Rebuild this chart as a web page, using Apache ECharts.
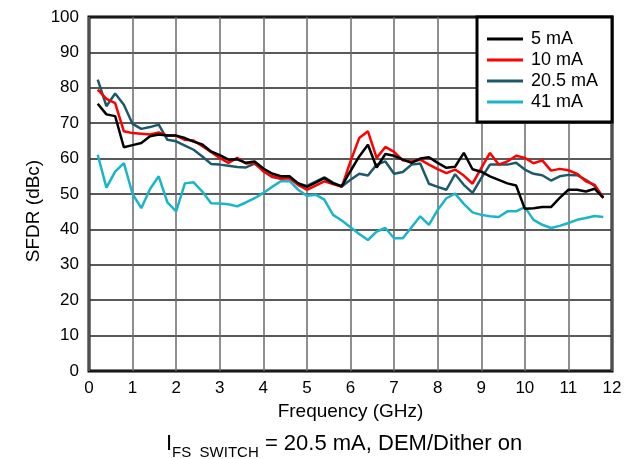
<!DOCTYPE html>
<html>
<head>
<meta charset="utf-8">
<script src="https://cdn.jsdelivr.net/npm/echarts@6/dist/echarts.min.js"></script>
<style>
	html, body { margin: 0; padding: 0; background: #fff; }
	#chart { width: 641px; height: 459px; }
</style>
</head>
<body>
<div id="chart"></div>
<script>
	// frequency points (GHz)
	var freq = [0.2, 0.4, 0.6, 0.8, 1.0, 1.2, 1.4, 1.6, 1.8, 2.0, 2.2, 2.4, 2.6, 2.8, 3.0, 3.2, 3.4, 3.6, 3.8, 4.0,
		4.2, 4.4, 4.6, 4.8, 5.0, 5.2, 5.4, 5.6, 5.8, 6.0, 6.2, 6.4, 6.6, 6.8, 7.0, 7.2, 7.4, 7.6, 7.8, 8.0,
		8.2, 8.4, 8.6, 8.8, 9.0, 9.2, 9.4, 9.6, 9.8, 10.0, 10.2, 10.4, 10.6, 10.8, 11.0, 11.2, 11.4, 11.6, 11.8];

	// SFDR (dBc) per full-scale current
	var sfdr5 = [75.5, 72.5, 72, 63.2, 63.8, 64.4, 66.3, 66.8, 66.5, 66.5, 65.8, 64.8, 64, 62, 61, 59.7, 59.8, 58.8, 59.2, 57.2,
		55.8, 55, 55, 53, 52, 53.2, 54.5, 53, 52.2, 56.5, 60.6, 63.9, 57.5, 61.3, 60.8, 59.7, 58.8, 60, 60.4, 58.8,
		57.4, 57.7, 61.6, 57, 56.3, 55, 54, 53, 52.4, 45.8, 46, 46.3, 46.3, 48.9, 51.2, 51.2, 50.7, 51.5, 48.9];
	var sfdr10 = [79.5, 76.9, 75.7, 67.7, 67.2, 67, 66.8, 67.4, 66.5, 66.5, 65.3, 65.1, 63.5, 61.9, 60.2, 58.8, 60.2, 58.6, 58.8, 56.4,
		55, 54.3, 54.5, 52.5, 51.2, 52.4, 53.6, 52.8, 52, 59.2, 65.8, 67.7, 60.2, 63.3, 61.9, 59.5, 59.2, 59.7, 58.3, 57,
		55.9, 56.9, 55.2, 52.9, 57.3, 61.6, 58.3, 59.2, 60.8, 60.2, 58.7, 59.5, 56.6, 57.1, 56.7, 55.7, 53.6, 52.6, 48.9];
	var sfdr20 = [82.3, 74.8, 78.4, 75.2, 69.8, 68.4, 68.9, 69.6, 65.3, 64.9, 63.7, 62.5, 60.6, 58.5, 58.3, 58, 57.6, 57.5, 58.6, 56.6,
		54.8, 54.4, 54.5, 53, 52.3, 53.5, 54.7, 53.2, 52.1, 54, 55.7, 55.2, 58.3, 59.2, 55.7, 56.2, 58.3, 58.6, 52.9, 52,
		51.2, 55.6, 52.6, 50.3, 54.5, 58.3, 58.3, 58.3, 58.8, 56.9, 55.7, 55.3, 53.8, 55, 55.4, 55.3, 54, 52.3, 49.1];
	var sfdr41 = [61.1, 51.8, 56.3, 58.7, 50, 46, 51.4, 55, 47.6, 45.1, 53, 53.3, 50.7, 47.4, 47.3, 47.1, 46.5, 47.6, 48.8, 50.3,
		52, 53.6, 53.7, 51.2, 49.5, 49.8, 48.4, 44.1, 42.5, 40.6, 38.7, 37, 39.4, 40.4, 37.5, 37.5, 40.6, 43.7, 41.3, 45.5,
		48.8, 50.1, 47.2, 44.8, 44.1, 43.7, 43.5, 45.1, 45.1, 46.3, 42.7, 41.3, 40.4, 41, 41.8, 42.7, 43.2, 43.8, 43.5];

	var seriesNames = ['5 mA', '10 mA', '20.5 mA', '41 mA'];
	var seriesColors = ['#000000', '#ff0000', '#1c5a6b', '#19b6c9'];
	var seriesValues = [sfdr5, sfdr10, sfdr20, sfdr41];

	var font = "'Liberation Sans', Arial, sans-serif";

	function pairs(values) {
		var out = [];
		for (var i = 0; i < freq.length; i++) {
			out.push([freq[i], values[i]]);
		}
		return out;
	}

	var series = [];
	for (var i = 0; i < seriesNames.length; i++) {
		series.push({
			name: seriesNames[i],
			type: 'line',
			symbol: 'none',
			data: pairs(seriesValues[i]),
			lineStyle: { color: seriesColors[i], width: 2.5 },
			itemStyle: { color: seriesColors[i] },
			z: 10 - i
		});
	}

	var myChart = echarts.init(document.getElementById('chart'));
	var option = {
		animation: false,
		textStyle: { fontFamily: font },
		grid: {
			left: 89, right: 29, top: 17, bottom: 88,
			show: true, borderWidth: 3, borderColor: '#000'
		},
		legend: {
			left: 477, top: 17,
			orient: 'vertical',
			data: seriesNames,
			icon: 'rect',
			itemWidth: 36, itemHeight: 3, itemGap: 3,
			padding: [13, 14, 11, 10],
			borderColor: '#000', borderWidth: 3,
			backgroundColor: '#fff',
			textStyle: { fontSize: 18, color: '#000', fontFamily: font, lineHeight: 18, padding: [0, 0, 0, 3] }
		},
		xAxis: {
			type: 'value',
			min: 0, max: 12, interval: 1,
			name: 'Frequency (GHz)',
			nameLocation: 'middle',
			nameGap: 31,
			nameTextStyle: { fontSize: 19, color: '#000', fontFamily: font },
			axisLine: { show: false },
			axisTick: { show: false },
			axisLabel: { fontSize: 17, color: '#000', margin: 9, fontFamily: font },
			splitLine: { show: true, lineStyle: { color: '#6a6a6a', width: 1.5 } }
		},
		yAxis: {
			type: 'value',
			min: 0, max: 100, interval: 10,
			axisLine: { show: false },
			axisTick: { show: false },
			axisLabel: { fontSize: 17, color: '#000', margin: 10, fontFamily: font },
			splitLine: { show: true, lineStyle: { color: '#222', width: 1.5 } }
		},
		graphic: [{
			// y axis title, sits a bit below plot centre in the original
			type: 'text',
			x: 34, y: 211,
			rotation: Math.PI / 2,
			style: {
				text: 'SFDR (dBc)',
				fontSize: 19, fontFamily: font, fill: '#000',
				align: 'center', verticalAlign: 'middle'
			}
		}, {
			type: 'text',
			left: 166, top: 433,
			style: {
				text: '{a|I}{b|FS  SWITCH}{a| = 20.5 mA, DEM/Dither on}',
				rich: {
					a: { fontSize: 22, fontFamily: font, fill: '#000', color: '#000', verticalAlign: 'bottom' },
					b: { fontSize: 15, fontFamily: font, fill: '#000', color: '#000', verticalAlign: 'bottom', padding: [0, 0, -5, 0] }
				}
			}
		}],
		series: series
	};
	myChart.setOption(option, true);
</script>
</body>
</html>
